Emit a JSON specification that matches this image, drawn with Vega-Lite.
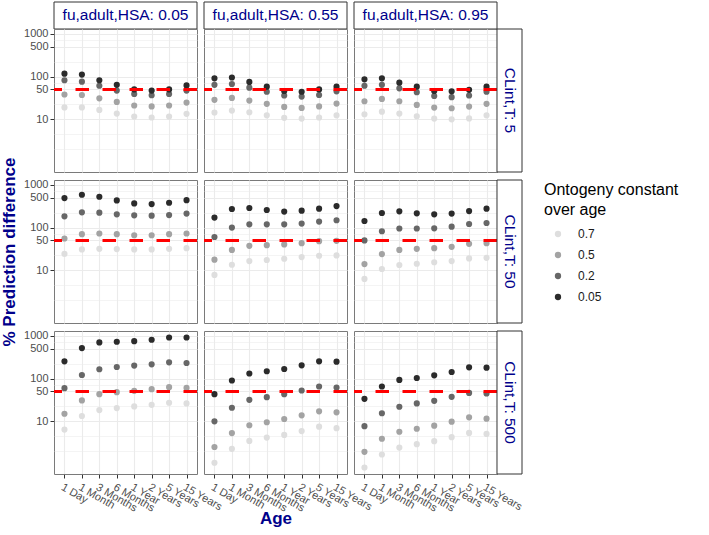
{
"$schema": "https://vega.github.io/schema/vega-lite/v6.json",
"padding": {"left": 0, "top": 1, "right": 5, "bottom": 5},
"background": "white",
"config": {
  "font": "Liberation Sans",
  "view": {"stroke": null},
  "axis": {"gridColor": "#ebebeb", "tickColor": "#333333", "labelColor": "#4d4d4d", "labelFont": "Liberation Sans", "titleFont": "Liberation Sans", "domain": false},
  "legend": {"labelFont": "Liberation Sans", "titleFont": "Liberation Sans"}
},
"datasets": {"pts": [
{"fu":"0.05","cl":"5","k":"0.7","age":"1 Day","y":19},{"fu":"0.05","cl":"5","k":"0.7","age":"1 Month","y":19},{"fu":"0.05","cl":"5","k":"0.7","age":"3 Months","y":16.6},{"fu":"0.05","cl":"5","k":"0.7","age":"6 Months","y":13.6},{"fu":"0.05","cl":"5","k":"0.7","age":"1 Year","y":11.6},{"fu":"0.05","cl":"5","k":"0.7","age":"2 Years","y":11},{"fu":"0.05","cl":"5","k":"0.7","age":"5 Years","y":11.6},{"fu":"0.05","cl":"5","k":"0.7","age":"15 Years","y":13.4},
{"fu":"0.05","cl":"5","k":"0.5","age":"1 Day","y":38},{"fu":"0.05","cl":"5","k":"0.5","age":"1 Month","y":37},{"fu":"0.05","cl":"5","k":"0.5","age":"3 Months","y":31},{"fu":"0.05","cl":"5","k":"0.5","age":"6 Months","y":25.5},{"fu":"0.05","cl":"5","k":"0.5","age":"1 Year","y":21},{"fu":"0.05","cl":"5","k":"0.5","age":"2 Years","y":20},{"fu":"0.05","cl":"5","k":"0.5","age":"5 Years","y":21},{"fu":"0.05","cl":"5","k":"0.5","age":"15 Years","y":24.6},
{"fu":"0.05","cl":"5","k":"0.2","age":"1 Day","y":82},{"fu":"0.05","cl":"5","k":"0.2","age":"1 Month","y":76},{"fu":"0.05","cl":"5","k":"0.2","age":"3 Months","y":61},{"fu":"0.05","cl":"5","k":"0.2","age":"6 Months","y":47},{"fu":"0.05","cl":"5","k":"0.2","age":"1 Year","y":39},{"fu":"0.05","cl":"5","k":"0.2","age":"2 Years","y":36.5},{"fu":"0.05","cl":"5","k":"0.2","age":"5 Years","y":39},{"fu":"0.05","cl":"5","k":"0.2","age":"15 Years","y":47},
{"fu":"0.05","cl":"5","k":"0.05","age":"1 Day","y":117},{"fu":"0.05","cl":"5","k":"0.05","age":"1 Month","y":111},{"fu":"0.05","cl":"5","k":"0.05","age":"3 Months","y":82},{"fu":"0.05","cl":"5","k":"0.05","age":"6 Months","y":64},{"fu":"0.05","cl":"5","k":"0.05","age":"1 Year","y":50},{"fu":"0.05","cl":"5","k":"0.05","age":"2 Years","y":47},{"fu":"0.05","cl":"5","k":"0.05","age":"5 Years","y":50},{"fu":"0.05","cl":"5","k":"0.05","age":"15 Years","y":62},

{"fu":"0.55","cl":"5","k":"0.7","age":"1 Day","y":14.4},{"fu":"0.55","cl":"5","k":"0.7","age":"1 Month","y":16},{"fu":"0.55","cl":"5","k":"0.7","age":"3 Months","y":14.6},{"fu":"0.55","cl":"5","k":"0.7","age":"6 Months","y":12.4},{"fu":"0.55","cl":"5","k":"0.7","age":"1 Year","y":10.8},{"fu":"0.55","cl":"5","k":"0.7","age":"2 Years","y":10.4},{"fu":"0.55","cl":"5","k":"0.7","age":"5 Years","y":11},{"fu":"0.55","cl":"5","k":"0.7","age":"15 Years","y":12.4},
{"fu":"0.55","cl":"5","k":"0.5","age":"1 Day","y":28.5},{"fu":"0.55","cl":"5","k":"0.5","age":"1 Month","y":31.7},{"fu":"0.55","cl":"5","k":"0.5","age":"3 Months","y":27.4},{"fu":"0.55","cl":"5","k":"0.5","age":"6 Months","y":23},{"fu":"0.55","cl":"5","k":"0.5","age":"1 Year","y":19.5},{"fu":"0.55","cl":"5","k":"0.5","age":"2 Years","y":18.5},{"fu":"0.55","cl":"5","k":"0.5","age":"5 Years","y":20},{"fu":"0.55","cl":"5","k":"0.5","age":"15 Years","y":23.3},
{"fu":"0.55","cl":"5","k":"0.2","age":"1 Day","y":64},{"fu":"0.55","cl":"5","k":"0.2","age":"1 Month","y":67},{"fu":"0.55","cl":"5","k":"0.2","age":"3 Months","y":55},{"fu":"0.55","cl":"5","k":"0.2","age":"6 Months","y":44},{"fu":"0.55","cl":"5","k":"0.2","age":"1 Year","y":36},{"fu":"0.55","cl":"5","k":"0.2","age":"2 Years","y":34},{"fu":"0.55","cl":"5","k":"0.2","age":"5 Years","y":37},{"fu":"0.55","cl":"5","k":"0.2","age":"15 Years","y":45},
{"fu":"0.55","cl":"5","k":"0.05","age":"1 Day","y":91},{"fu":"0.55","cl":"5","k":"0.05","age":"1 Month","y":95},{"fu":"0.55","cl":"5","k":"0.05","age":"3 Months","y":75},{"fu":"0.55","cl":"5","k":"0.05","age":"6 Months","y":58},{"fu":"0.55","cl":"5","k":"0.05","age":"1 Year","y":46},{"fu":"0.55","cl":"5","k":"0.05","age":"2 Years","y":44},{"fu":"0.55","cl":"5","k":"0.05","age":"5 Years","y":50},{"fu":"0.55","cl":"5","k":"0.05","age":"15 Years","y":58},

{"fu":"0.95","cl":"5","k":"0.7","age":"1 Day","y":13.1},{"fu":"0.95","cl":"5","k":"0.7","age":"1 Month","y":15.1},{"fu":"0.95","cl":"5","k":"0.7","age":"3 Months","y":13.6},{"fu":"0.95","cl":"5","k":"0.7","age":"6 Months","y":11.8},{"fu":"0.95","cl":"5","k":"0.7","age":"1 Year","y":10.4},{"fu":"0.95","cl":"5","k":"0.7","age":"2 Years","y":10},{"fu":"0.95","cl":"5","k":"0.7","age":"5 Years","y":10.5},{"fu":"0.95","cl":"5","k":"0.7","age":"15 Years","y":12.4},
{"fu":"0.95","cl":"5","k":"0.5","age":"1 Day","y":26.4},{"fu":"0.95","cl":"5","k":"0.5","age":"1 Month","y":30},{"fu":"0.95","cl":"5","k":"0.5","age":"3 Months","y":26.4},{"fu":"0.95","cl":"5","k":"0.5","age":"6 Months","y":21.7},{"fu":"0.95","cl":"5","k":"0.5","age":"1 Year","y":18.8},{"fu":"0.95","cl":"5","k":"0.5","age":"2 Years","y":18.1},{"fu":"0.95","cl":"5","k":"0.5","age":"5 Years","y":19.8},{"fu":"0.95","cl":"5","k":"0.5","age":"15 Years","y":23},
{"fu":"0.95","cl":"5","k":"0.2","age":"1 Day","y":61},{"fu":"0.95","cl":"5","k":"0.2","age":"1 Month","y":64},{"fu":"0.95","cl":"5","k":"0.2","age":"3 Months","y":53},{"fu":"0.95","cl":"5","k":"0.2","age":"6 Months","y":43},{"fu":"0.95","cl":"5","k":"0.2","age":"1 Year","y":35},{"fu":"0.95","cl":"5","k":"0.2","age":"2 Years","y":33},{"fu":"0.95","cl":"5","k":"0.2","age":"5 Years","y":36},{"fu":"0.95","cl":"5","k":"0.2","age":"15 Years","y":44},
{"fu":"0.95","cl":"5","k":"0.05","age":"1 Day","y":86},{"fu":"0.95","cl":"5","k":"0.05","age":"1 Month","y":91},{"fu":"0.95","cl":"5","k":"0.05","age":"3 Months","y":72},{"fu":"0.95","cl":"5","k":"0.05","age":"6 Months","y":58},{"fu":"0.95","cl":"5","k":"0.05","age":"1 Year","y":46},{"fu":"0.95","cl":"5","k":"0.05","age":"2 Years","y":45},{"fu":"0.95","cl":"5","k":"0.05","age":"5 Years","y":49},{"fu":"0.95","cl":"5","k":"0.05","age":"15 Years","y":58},

{"fu":"0.05","cl":"50","k":"0.7","age":"1 Day","y":24.3},{"fu":"0.05","cl":"50","k":"0.7","age":"1 Month","y":30.8},{"fu":"0.05","cl":"50","k":"0.7","age":"3 Months","y":31.8},{"fu":"0.05","cl":"50","k":"0.7","age":"6 Months","y":31.3},{"fu":"0.05","cl":"50","k":"0.7","age":"1 Year","y":30.8},{"fu":"0.05","cl":"50","k":"0.7","age":"2 Years","y":30.8},{"fu":"0.05","cl":"50","k":"0.7","age":"5 Years","y":31.8},{"fu":"0.05","cl":"50","k":"0.7","age":"15 Years","y":33},
{"fu":"0.05","cl":"50","k":"0.5","age":"1 Day","y":55.5},{"fu":"0.05","cl":"50","k":"0.5","age":"1 Month","y":70},{"fu":"0.05","cl":"50","k":"0.5","age":"3 Months","y":72.5},{"fu":"0.05","cl":"50","k":"0.5","age":"6 Months","y":70},{"fu":"0.05","cl":"50","k":"0.5","age":"1 Year","y":66},{"fu":"0.05","cl":"50","k":"0.5","age":"2 Years","y":66},{"fu":"0.05","cl":"50","k":"0.5","age":"5 Years","y":70},{"fu":"0.05","cl":"50","k":"0.5","age":"15 Years","y":72.5},
{"fu":"0.05","cl":"50","k":"0.2","age":"1 Day","y":183},{"fu":"0.05","cl":"50","k":"0.2","age":"1 Month","y":227},{"fu":"0.05","cl":"50","k":"0.2","age":"3 Months","y":223},{"fu":"0.05","cl":"50","k":"0.2","age":"6 Months","y":204},{"fu":"0.05","cl":"50","k":"0.2","age":"1 Year","y":193},{"fu":"0.05","cl":"50","k":"0.2","age":"2 Years","y":190},{"fu":"0.05","cl":"50","k":"0.2","age":"5 Years","y":196},{"fu":"0.05","cl":"50","k":"0.2","age":"15 Years","y":212},
{"fu":"0.05","cl":"50","k":"0.05","age":"1 Day","y":488},{"fu":"0.05","cl":"50","k":"0.05","age":"1 Month","y":585},{"fu":"0.05","cl":"50","k":"0.05","age":"3 Months","y":526},{"fu":"0.05","cl":"50","k":"0.05","age":"6 Months","y":431},{"fu":"0.05","cl":"50","k":"0.05","age":"1 Year","y":367},{"fu":"0.05","cl":"50","k":"0.05","age":"2 Years","y":354},{"fu":"0.05","cl":"50","k":"0.05","age":"5 Years","y":381},{"fu":"0.05","cl":"50","k":"0.05","age":"15 Years","y":438},

{"fu":"0.55","cl":"50","k":"0.7","age":"1 Day","y":7.8},{"fu":"0.55","cl":"50","k":"0.7","age":"1 Month","y":13.5},{"fu":"0.55","cl":"50","k":"0.7","age":"3 Months","y":16.4},{"fu":"0.55","cl":"50","k":"0.7","age":"6 Months","y":17.4},{"fu":"0.55","cl":"50","k":"0.7","age":"1 Year","y":18.6},{"fu":"0.55","cl":"50","k":"0.7","age":"2 Years","y":20.4},{"fu":"0.55","cl":"50","k":"0.7","age":"5 Years","y":21.9},{"fu":"0.55","cl":"50","k":"0.7","age":"15 Years","y":22.3},
{"fu":"0.55","cl":"50","k":"0.5","age":"1 Day","y":17.7},{"fu":"0.55","cl":"50","k":"0.5","age":"1 Month","y":30},{"fu":"0.55","cl":"50","k":"0.5","age":"3 Months","y":37.3},{"fu":"0.55","cl":"50","k":"0.5","age":"6 Months","y":38.7},{"fu":"0.55","cl":"50","k":"0.5","age":"1 Year","y":40.3},{"fu":"0.55","cl":"50","k":"0.5","age":"2 Years","y":43.2},{"fu":"0.55","cl":"50","k":"0.5","age":"5 Years","y":48},{"fu":"0.55","cl":"50","k":"0.5","age":"15 Years","y":48.8},
{"fu":"0.55","cl":"50","k":"0.2","age":"1 Day","y":60},{"fu":"0.55","cl":"50","k":"0.2","age":"1 Month","y":100},{"fu":"0.55","cl":"50","k":"0.2","age":"3 Months","y":119},{"fu":"0.55","cl":"50","k":"0.2","age":"6 Months","y":119},{"fu":"0.55","cl":"50","k":"0.2","age":"1 Year","y":119},{"fu":"0.55","cl":"50","k":"0.2","age":"2 Years","y":124},{"fu":"0.55","cl":"50","k":"0.2","age":"5 Years","y":138},{"fu":"0.55","cl":"50","k":"0.2","age":"15 Years","y":148},
{"fu":"0.55","cl":"50","k":"0.05","age":"1 Day","y":171},{"fu":"0.55","cl":"50","k":"0.05","age":"1 Month","y":271},{"fu":"0.55","cl":"50","k":"0.05","age":"3 Months","y":286},{"fu":"0.55","cl":"50","k":"0.05","age":"6 Months","y":257},{"fu":"0.55","cl":"50","k":"0.05","age":"1 Year","y":236},{"fu":"0.55","cl":"50","k":"0.05","age":"2 Years","y":248},{"fu":"0.55","cl":"50","k":"0.05","age":"5 Years","y":277},{"fu":"0.55","cl":"50","k":"0.05","age":"15 Years","y":318},

{"fu":"0.95","cl":"50","k":"0.7","age":"1 Day","y":6.3},{"fu":"0.95","cl":"50","k":"0.7","age":"1 Month","y":10.7},{"fu":"0.95","cl":"50","k":"0.7","age":"3 Months","y":13.3},{"fu":"0.95","cl":"50","k":"0.7","age":"6 Months","y":14.2},{"fu":"0.95","cl":"50","k":"0.7","age":"1 Year","y":15.4},{"fu":"0.95","cl":"50","k":"0.7","age":"2 Years","y":16.4},{"fu":"0.95","cl":"50","k":"0.7","age":"5 Years","y":19},{"fu":"0.95","cl":"50","k":"0.7","age":"15 Years","y":19.6},
{"fu":"0.95","cl":"50","k":"0.5","age":"1 Day","y":14},{"fu":"0.95","cl":"50","k":"0.5","age":"1 Month","y":23.9},{"fu":"0.95","cl":"50","k":"0.5","age":"3 Months","y":30},{"fu":"0.95","cl":"50","k":"0.5","age":"6 Months","y":31.8},{"fu":"0.95","cl":"50","k":"0.5","age":"1 Year","y":33},{"fu":"0.95","cl":"50","k":"0.5","age":"2 Years","y":35.4},{"fu":"0.95","cl":"50","k":"0.5","age":"5 Years","y":41.6},{"fu":"0.95","cl":"50","k":"0.5","age":"15 Years","y":43.2},
{"fu":"0.95","cl":"50","k":"0.2","age":"1 Day","y":50},{"fu":"0.95","cl":"50","k":"0.2","age":"1 Month","y":82},{"fu":"0.95","cl":"50","k":"0.2","age":"3 Months","y":95},{"fu":"0.95","cl":"50","k":"0.2","age":"6 Months","y":95},{"fu":"0.95","cl":"50","k":"0.2","age":"1 Year","y":96},{"fu":"0.95","cl":"50","k":"0.2","age":"2 Years","y":105},{"fu":"0.95","cl":"50","k":"0.2","age":"5 Years","y":121},{"fu":"0.95","cl":"50","k":"0.2","age":"15 Years","y":128},
{"fu":"0.95","cl":"50","k":"0.05","age":"1 Day","y":142},{"fu":"0.95","cl":"50","k":"0.05","age":"1 Month","y":219},{"fu":"0.95","cl":"50","k":"0.05","age":"3 Months","y":239},{"fu":"0.95","cl":"50","k":"0.05","age":"6 Months","y":215},{"fu":"0.95","cl":"50","k":"0.05","age":"1 Year","y":204},{"fu":"0.95","cl":"50","k":"0.05","age":"2 Years","y":212},{"fu":"0.95","cl":"50","k":"0.05","age":"5 Years","y":243},{"fu":"0.95","cl":"50","k":"0.05","age":"15 Years","y":277},

{"fu":"0.05","cl":"500","k":"0.7","age":"1 Day","y":6.4},{"fu":"0.05","cl":"500","k":"0.7","age":"1 Month","y":13.3},{"fu":"0.05","cl":"500","k":"0.7","age":"3 Months","y":18.3},{"fu":"0.05","cl":"500","k":"0.7","age":"6 Months","y":20.4},{"fu":"0.05","cl":"500","k":"0.7","age":"1 Year","y":22.3},{"fu":"0.05","cl":"500","k":"0.7","age":"2 Years","y":24.3},{"fu":"0.05","cl":"500","k":"0.7","age":"5 Years","y":27.1},{"fu":"0.05","cl":"500","k":"0.7","age":"15 Years","y":26.2},
{"fu":"0.05","cl":"500","k":"0.5","age":"1 Day","y":15},{"fu":"0.05","cl":"500","k":"0.5","age":"1 Month","y":30.8},{"fu":"0.05","cl":"500","k":"0.5","age":"3 Months","y":43.2},{"fu":"0.05","cl":"500","k":"0.5","age":"6 Months","y":48},{"fu":"0.05","cl":"500","k":"0.5","age":"1 Year","y":51.5},{"fu":"0.05","cl":"500","k":"0.5","age":"2 Years","y":56.4},{"fu":"0.05","cl":"500","k":"0.5","age":"5 Years","y":62.8},{"fu":"0.05","cl":"500","k":"0.5","age":"15 Years","y":60.4},
{"fu":"0.05","cl":"500","k":"0.2","age":"1 Day","y":59.5},{"fu":"0.05","cl":"500","k":"0.2","age":"1 Month","y":121},{"fu":"0.05","cl":"500","k":"0.2","age":"3 Months","y":165},{"fu":"0.05","cl":"500","k":"0.2","age":"6 Months","y":186},{"fu":"0.05","cl":"500","k":"0.2","age":"1 Year","y":201},{"fu":"0.05","cl":"500","k":"0.2","age":"2 Years","y":215},{"fu":"0.05","cl":"500","k":"0.2","age":"5 Years","y":239},{"fu":"0.05","cl":"500","k":"0.2","age":"15 Years","y":231},
{"fu":"0.05","cl":"500","k":"0.05","age":"1 Day","y":253},{"fu":"0.05","cl":"500","k":"0.05","age":"1 Month","y":515},{"fu":"0.05","cl":"500","k":"0.05","age":"3 Months","y":699},{"fu":"0.05","cl":"500","k":"0.05","age":"6 Months","y":725},{"fu":"0.05","cl":"500","k":"0.05","age":"1 Year","y":749},{"fu":"0.05","cl":"500","k":"0.05","age":"2 Years","y":807},{"fu":"0.05","cl":"500","k":"0.05","age":"5 Years","y":913},{"fu":"0.05","cl":"500","k":"0.05","age":"15 Years","y":913},

{"fu":"0.55","cl":"500","k":"0.7","age":"1 Day","y":1.07},{"fu":"0.55","cl":"500","k":"0.7","age":"1 Month","y":2.27},{"fu":"0.55","cl":"500","k":"0.7","age":"3 Months","y":3.48},{"fu":"0.55","cl":"500","k":"0.7","age":"6 Months","y":4.16},{"fu":"0.55","cl":"500","k":"0.7","age":"1 Year","y":4.8},{"fu":"0.55","cl":"500","k":"0.7","age":"2 Years","y":5.9},{"fu":"0.55","cl":"500","k":"0.7","age":"5 Years","y":7.5},{"fu":"0.55","cl":"500","k":"0.7","age":"15 Years","y":6.9},
{"fu":"0.55","cl":"500","k":"0.5","age":"1 Day","y":2.5},{"fu":"0.55","cl":"500","k":"0.5","age":"1 Month","y":5.3},{"fu":"0.55","cl":"500","k":"0.5","age":"3 Months","y":8.1},{"fu":"0.55","cl":"500","k":"0.5","age":"6 Months","y":9.5},{"fu":"0.55","cl":"500","k":"0.5","age":"1 Year","y":11.3},{"fu":"0.55","cl":"500","k":"0.5","age":"2 Years","y":13.8},{"fu":"0.55","cl":"500","k":"0.5","age":"5 Years","y":17.1},{"fu":"0.55","cl":"500","k":"0.5","age":"15 Years","y":16.2},
{"fu":"0.55","cl":"500","k":"0.2","age":"1 Day","y":10},{"fu":"0.55","cl":"500","k":"0.2","age":"1 Month","y":20.7},{"fu":"0.55","cl":"500","k":"0.2","age":"3 Months","y":31.8},{"fu":"0.55","cl":"500","k":"0.2","age":"6 Months","y":36.7},{"fu":"0.55","cl":"500","k":"0.2","age":"1 Year","y":43.2},{"fu":"0.55","cl":"500","k":"0.2","age":"2 Years","y":52.6},{"fu":"0.55","cl":"500","k":"0.2","age":"5 Years","y":65.2},{"fu":"0.55","cl":"500","k":"0.2","age":"15 Years","y":61.8},
{"fu":"0.55","cl":"500","k":"0.05","age":"1 Day","y":43.2},{"fu":"0.55","cl":"500","k":"0.05","age":"1 Month","y":90},{"fu":"0.55","cl":"500","k":"0.05","age":"3 Months","y":131},{"fu":"0.55","cl":"500","k":"0.05","age":"6 Months","y":148},{"fu":"0.55","cl":"500","k":"0.05","age":"1 Year","y":167},{"fu":"0.55","cl":"500","k":"0.05","age":"2 Years","y":204},{"fu":"0.55","cl":"500","k":"0.05","age":"5 Years","y":253},{"fu":"0.55","cl":"500","k":"0.05","age":"15 Years","y":248},

{"fu":"0.95","cl":"500","k":"0.7","age":"1 Day","y":0.83},{"fu":"0.95","cl":"500","k":"0.7","age":"1 Month","y":1.67},{"fu":"0.95","cl":"500","k":"0.7","age":"3 Months","y":2.43},{"fu":"0.95","cl":"500","k":"0.7","age":"6 Months","y":2.92},{"fu":"0.95","cl":"500","k":"0.7","age":"1 Year","y":3.43},{"fu":"0.95","cl":"500","k":"0.7","age":"2 Years","y":4.25},{"fu":"0.95","cl":"500","k":"0.7","age":"5 Years","y":5.35},{"fu":"0.95","cl":"500","k":"0.7","age":"15 Years","y":5.07},
{"fu":"0.95","cl":"500","k":"0.5","age":"1 Day","y":1.93},{"fu":"0.95","cl":"500","k":"0.5","age":"1 Month","y":3.9},{"fu":"0.95","cl":"500","k":"0.5","age":"3 Months","y":5.7},{"fu":"0.95","cl":"500","k":"0.5","age":"6 Months","y":6.7},{"fu":"0.95","cl":"500","k":"0.5","age":"1 Year","y":7.9},{"fu":"0.95","cl":"500","k":"0.5","age":"2 Years","y":9.8},{"fu":"0.95","cl":"500","k":"0.5","age":"5 Years","y":12.4},{"fu":"0.95","cl":"500","k":"0.5","age":"15 Years","y":11.5},
{"fu":"0.95","cl":"500","k":"0.2","age":"1 Day","y":7.7},{"fu":"0.95","cl":"500","k":"0.2","age":"1 Month","y":15.4},{"fu":"0.95","cl":"500","k":"0.2","age":"3 Months","y":21.9},{"fu":"0.95","cl":"500","k":"0.2","age":"6 Months","y":26.2},{"fu":"0.95","cl":"500","k":"0.2","age":"1 Year","y":30.1},{"fu":"0.95","cl":"500","k":"0.2","age":"2 Years","y":37.3},{"fu":"0.95","cl":"500","k":"0.2","age":"5 Years","y":46.2},{"fu":"0.95","cl":"500","k":"0.2","age":"15 Years","y":44.8},
{"fu":"0.95","cl":"500","k":"0.05","age":"1 Day","y":33.6},{"fu":"0.95","cl":"500","k":"0.05","age":"1 Month","y":65.2},{"fu":"0.95","cl":"500","k":"0.05","age":"3 Months","y":92.8},{"fu":"0.95","cl":"500","k":"0.05","age":"6 Months","y":103},{"fu":"0.95","cl":"500","k":"0.05","age":"1 Year","y":119},{"fu":"0.95","cl":"500","k":"0.05","age":"2 Years","y":142},{"fu":"0.95","cl":"500","k":"0.05","age":"5 Years","y":183},{"fu":"0.95","cl":"500","k":"0.05","age":"15 Years","y":180}
]},
"columns": 4,
"spacing": {"row": 8, "column": 7},
"align": "each",
"bounds": "flush",
"resolve": {"scale": {"x": "independent", "y": "independent"}, "axis": {"x": "independent", "y": "independent"}},
"concat": [
{"width":143,"height":19,"data":{"values":[{"label":"fu,adult,HSA: 0.05"}]},"layer":[
 {"mark":{"type":"rect","fill":"#ffffff","stroke":"#333333","strokeWidth":1},"encoding":{"x":{"datum":0,"type":"quantitative","scale":{"domain":[0,1],"nice":false},"axis":null},"x2":{"datum":1},"y":{"datum":1,"type":"quantitative","scale":{"domain":[0,1],"nice":false},"axis":null},"y2":{"datum":-0.4211}}},
 {"mark":{"type":"text","fontSize":15.5,"color":"#00008B","align":"center","baseline":"middle"},"encoding":{"x":{"datum":0.5,"type":"quantitative"},"y":{"datum":0.2895,"type":"quantitative"},"text":{"field":"label"}}}]},
{"width":143,"height":19,"data":{"values":[{"label":"fu,adult,HSA: 0.55"}]},"layer":[
 {"mark":{"type":"rect","fill":"#ffffff","stroke":"#333333","strokeWidth":1},"encoding":{"x":{"datum":0,"type":"quantitative","scale":{"domain":[0,1],"nice":false},"axis":null},"x2":{"datum":1},"y":{"datum":1,"type":"quantitative","scale":{"domain":[0,1],"nice":false},"axis":null},"y2":{"datum":-0.4211}}},
 {"mark":{"type":"text","fontSize":15.5,"color":"#00008B","align":"center","baseline":"middle"},"encoding":{"x":{"datum":0.5,"type":"quantitative"},"y":{"datum":0.2895,"type":"quantitative"},"text":{"field":"label"}}}]},
{"width":143,"height":19,"data":{"values":[{"label":"fu,adult,HSA: 0.95"}]},"layer":[
 {"mark":{"type":"rect","fill":"#ffffff","stroke":"#333333","strokeWidth":1},"encoding":{"x":{"datum":0,"type":"quantitative","scale":{"domain":[0,1],"nice":false},"axis":null},"x2":{"datum":1},"y":{"datum":1,"type":"quantitative","scale":{"domain":[0,1],"nice":false},"axis":null},"y2":{"datum":-0.4211}}},
 {"mark":{"type":"text","fontSize":15.5,"color":"#00008B","align":"center","baseline":"middle"},"encoding":{"x":{"datum":0.5,"type":"quantitative"},"y":{"datum":0.2895,"type":"quantitative"},"text":{"field":"label"}}}]},
{"width":18,"height":19,"data":{"values":[{"label":""}]},"mark":{"type":"text"},"encoding":{"text":{"field":"label"}}},

{"width":143,"height":143,"view":{"stroke":"#7a7a7a"},"layer":[
 {"data":{"name":"pts"},"transform":[{"filter":"datum.fu=='0.05' && datum.cl=='5'"}],"mark":{"type":"point","filled":true,"size":38,"opacity":1,"strokeWidth":0},
  "encoding":{
   "x":{"field":"age","type":"ordinal","sort":["1 Day","1 Month","3 Months","6 Months","1 Year","2 Years","5 Years","15 Years"],"scale":{"type":"point","padding":0.6},"axis":{"labels":false,"ticks":false,"grid":true,"gridWidth":1.1,"title":null}},
   "y":{"field":"y","type":"quantitative","scale":{"type":"log","domain":[0.585,1295],"nice":false},"axis":{"values":[2,4.472,10,22.36,50,70.71,100,223.6,500,707.1,1000],"labelExpr":"indexof([10,50,100,500,1000],datum.value)>=0 ? format(datum.value,'d') : ''","labelOverlap":false,"labelFontSize":11,"labelPadding":2,"tickSize":4,"tickOpacity":{"condition":{"test":"indexof([10,50,100,500,1000],datum.value)>=0","value":1},"value":0},"gridWidth":{"condition":{"test":"indexof([10,50,100,500,1000],datum.value)>=0","value":1.1},"value":0.55},"title":null}},
   "color":{"field":"k","type":"nominal","title":["Ontogeny constant","over age"],"scale":{"domain":["0.7","0.5","0.2","0.05"],"range":["#dedede","#a3a3a3","#676767","#2b2b2b"]},"legend":{"orient":"none","legendX":490,"legendY":180,"titleFontSize":16,"titleFontWeight":"normal","titleColor":"#000000","titleLineHeight":20,"titlePadding":10,"titleLimit":300,"labelFontSize":12,"labelColor":"#1a1a1a","labelOffset":14,"symbolSize":40,"symbolStrokeWidth":0,"symbolType":"circle","symbolOffset":8,"rowPadding":9}}}},
 {"data":{"values":[{}]},"mark":{"type":"rule","color":"#ff0000","strokeWidth":3,"strokeDash":[13.5,13.5]},"encoding":{"y":{"datum":50}}}]},
{"width":143,"height":143,"view":{"stroke":"#7a7a7a"},"layer":[
 {"data":{"name":"pts"},"transform":[{"filter":"datum.fu=='0.55' && datum.cl=='5'"}],"mark":{"type":"point","filled":true,"size":38,"opacity":1,"strokeWidth":0},
  "encoding":{
   "x":{"field":"age","type":"ordinal","sort":["1 Day","1 Month","3 Months","6 Months","1 Year","2 Years","5 Years","15 Years"],"scale":{"type":"point","padding":0.6},"axis":{"labels":false,"ticks":false,"grid":true,"gridWidth":1.1,"title":null}},
   "y":{"field":"y","type":"quantitative","scale":{"type":"log","domain":[0.585,1295],"nice":false},"axis":{"values":[2,4.472,10,22.36,50,70.71,100,223.6,500,707.1,1000],"labels":false,"ticks":false,"gridWidth":{"condition":{"test":"indexof([10,50,100,500,1000],datum.value)>=0","value":1.1},"value":0.55},"title":null}},
   "color":{"field":"k","type":"nominal","title":["Ontogeny constant","over age"],"scale":{"domain":["0.7","0.5","0.2","0.05"],"range":["#dedede","#a3a3a3","#676767","#2b2b2b"]}}}},
 {"data":{"values":[{}]},"mark":{"type":"rule","color":"#ff0000","strokeWidth":3,"strokeDash":[13.5,13.5]},"encoding":{"y":{"datum":50}}}]},
{"width":143,"height":143,"view":{"stroke":"#7a7a7a"},"layer":[
 {"data":{"name":"pts"},"transform":[{"filter":"datum.fu=='0.95' && datum.cl=='5'"}],"mark":{"type":"point","filled":true,"size":38,"opacity":1,"strokeWidth":0},
  "encoding":{
   "x":{"field":"age","type":"ordinal","sort":["1 Day","1 Month","3 Months","6 Months","1 Year","2 Years","5 Years","15 Years"],"scale":{"type":"point","padding":0.6},"axis":{"labels":false,"ticks":false,"grid":true,"gridWidth":1.1,"title":null}},
   "y":{"field":"y","type":"quantitative","scale":{"type":"log","domain":[0.585,1295],"nice":false},"axis":{"values":[2,4.472,10,22.36,50,70.71,100,223.6,500,707.1,1000],"labels":false,"ticks":false,"gridWidth":{"condition":{"test":"indexof([10,50,100,500,1000],datum.value)>=0","value":1.1},"value":0.55},"title":null}},
   "color":{"field":"k","type":"nominal","title":["Ontogeny constant","over age"],"scale":{"domain":["0.7","0.5","0.2","0.05"],"range":["#dedede","#a3a3a3","#676767","#2b2b2b"]}}}},
 {"data":{"values":[{}]},"mark":{"type":"rule","color":"#ff0000","strokeWidth":3,"strokeDash":[13.5,13.5]},"encoding":{"y":{"datum":50}}}]},
{"width":18,"height":143,"data":{"values":[{"label":"CLint,T: 5"}]},"layer":[
 {"mark":{"type":"rect","fill":"#ffffff","stroke":"#333333","strokeWidth":1},"encoding":{"x":{"datum":-0.3889,"type":"quantitative","scale":{"domain":[0,1],"nice":false},"axis":null},"x2":{"datum":1},"y":{"datum":0,"type":"quantitative","scale":{"domain":[0,1],"nice":false},"axis":null},"y2":{"datum":1}}},
 {"mark":{"type":"text","fontSize":15.5,"color":"#00008B","align":"center","baseline":"middle","angle":90},"encoding":{"x":{"datum":0.3056,"type":"quantitative"},"y":{"datum":0.5,"type":"quantitative"},"text":{"field":"label"}}}]},

{"width":143,"height":143,"view":{"stroke":"#7a7a7a"},"layer":[
 {"data":{"name":"pts"},"transform":[{"filter":"datum.fu=='0.05' && datum.cl=='50'"}],"mark":{"type":"point","filled":true,"size":38,"opacity":1,"strokeWidth":0},
  "encoding":{
   "x":{"field":"age","type":"ordinal","sort":["1 Day","1 Month","3 Months","6 Months","1 Year","2 Years","5 Years","15 Years"],"scale":{"type":"point","padding":0.6},"axis":{"labels":false,"ticks":false,"grid":true,"gridWidth":1.1,"title":null}},
   "y":{"field":"y","type":"quantitative","scale":{"type":"log","domain":[0.585,1295],"nice":false},"axis":{"values":[2,4.472,10,22.36,50,70.71,100,223.6,500,707.1,1000],"labelExpr":"indexof([10,50,100,500,1000],datum.value)>=0 ? format(datum.value,'d') : ''","labelOverlap":false,"labelFontSize":11,"labelPadding":2,"tickSize":4,"tickOpacity":{"condition":{"test":"indexof([10,50,100,500,1000],datum.value)>=0","value":1},"value":0},"gridWidth":{"condition":{"test":"indexof([10,50,100,500,1000],datum.value)>=0","value":1.1},"value":0.55},"title":"% Prediction difference","titleFontSize":17,"titleFontWeight":"bold","titleColor":"#00008B","titlePadding":5}},
   "color":{"field":"k","type":"nominal","title":["Ontogeny constant","over age"],"scale":{"domain":["0.7","0.5","0.2","0.05"],"range":["#dedede","#a3a3a3","#676767","#2b2b2b"]}}}},
 {"data":{"values":[{}]},"mark":{"type":"rule","color":"#ff0000","strokeWidth":3,"strokeDash":[13.5,13.5]},"encoding":{"y":{"datum":50}}}]},
{"width":143,"height":143,"view":{"stroke":"#7a7a7a"},"layer":[
 {"data":{"name":"pts"},"transform":[{"filter":"datum.fu=='0.55' && datum.cl=='50'"}],"mark":{"type":"point","filled":true,"size":38,"opacity":1,"strokeWidth":0},
  "encoding":{
   "x":{"field":"age","type":"ordinal","sort":["1 Day","1 Month","3 Months","6 Months","1 Year","2 Years","5 Years","15 Years"],"scale":{"type":"point","padding":0.6},"axis":{"labels":false,"ticks":false,"grid":true,"gridWidth":1.1,"title":null}},
   "y":{"field":"y","type":"quantitative","scale":{"type":"log","domain":[0.585,1295],"nice":false},"axis":{"values":[2,4.472,10,22.36,50,70.71,100,223.6,500,707.1,1000],"labels":false,"ticks":false,"gridWidth":{"condition":{"test":"indexof([10,50,100,500,1000],datum.value)>=0","value":1.1},"value":0.55},"title":null}},
   "color":{"field":"k","type":"nominal","title":["Ontogeny constant","over age"],"scale":{"domain":["0.7","0.5","0.2","0.05"],"range":["#dedede","#a3a3a3","#676767","#2b2b2b"]}}}},
 {"data":{"values":[{}]},"mark":{"type":"rule","color":"#ff0000","strokeWidth":3,"strokeDash":[13.5,13.5]},"encoding":{"y":{"datum":50}}}]},
{"width":143,"height":143,"view":{"stroke":"#7a7a7a"},"layer":[
 {"data":{"name":"pts"},"transform":[{"filter":"datum.fu=='0.95' && datum.cl=='50'"}],"mark":{"type":"point","filled":true,"size":38,"opacity":1,"strokeWidth":0},
  "encoding":{
   "x":{"field":"age","type":"ordinal","sort":["1 Day","1 Month","3 Months","6 Months","1 Year","2 Years","5 Years","15 Years"],"scale":{"type":"point","padding":0.6},"axis":{"labels":false,"ticks":false,"grid":true,"gridWidth":1.1,"title":null}},
   "y":{"field":"y","type":"quantitative","scale":{"type":"log","domain":[0.585,1295],"nice":false},"axis":{"values":[2,4.472,10,22.36,50,70.71,100,223.6,500,707.1,1000],"labels":false,"ticks":false,"gridWidth":{"condition":{"test":"indexof([10,50,100,500,1000],datum.value)>=0","value":1.1},"value":0.55},"title":null}},
   "color":{"field":"k","type":"nominal","title":["Ontogeny constant","over age"],"scale":{"domain":["0.7","0.5","0.2","0.05"],"range":["#dedede","#a3a3a3","#676767","#2b2b2b"]}}}},
 {"data":{"values":[{}]},"mark":{"type":"rule","color":"#ff0000","strokeWidth":3,"strokeDash":[13.5,13.5]},"encoding":{"y":{"datum":50}}}]},
{"width":18,"height":143,"data":{"values":[{"label":"CLint,T: 50"}]},"layer":[
 {"mark":{"type":"rect","fill":"#ffffff","stroke":"#333333","strokeWidth":1},"encoding":{"x":{"datum":-0.3889,"type":"quantitative","scale":{"domain":[0,1],"nice":false},"axis":null},"x2":{"datum":1},"y":{"datum":0,"type":"quantitative","scale":{"domain":[0,1],"nice":false},"axis":null},"y2":{"datum":1}}},
 {"mark":{"type":"text","fontSize":15.5,"color":"#00008B","align":"center","baseline":"middle","angle":90},"encoding":{"x":{"datum":0.3056,"type":"quantitative"},"y":{"datum":0.5,"type":"quantitative"},"text":{"field":"label"}}}]},

{"width":143,"height":143,"view":{"stroke":"#7a7a7a"},"layer":[
 {"data":{"name":"pts"},"transform":[{"filter":"datum.fu=='0.05' && datum.cl=='500'"}],"mark":{"type":"point","filled":true,"size":38,"opacity":1,"strokeWidth":0},
  "encoding":{
   "x":{"field":"age","type":"ordinal","sort":["1 Day","1 Month","3 Months","6 Months","1 Year","2 Years","5 Years","15 Years"],"scale":{"type":"point","padding":0.6},"axis":{"grid":true,"gridWidth":1.1,"labelAngle":30,"labelAlign":"left","labelBaseline":"top","labelFontSize":11,"labelPadding":3,"labelOverlap":false,"tickSize":4,"title":null}},
   "y":{"field":"y","type":"quantitative","scale":{"type":"log","domain":[0.585,1295],"nice":false},"axis":{"values":[2,4.472,10,22.36,50,70.71,100,223.6,500,707.1,1000],"labelExpr":"indexof([10,50,100,500,1000],datum.value)>=0 ? format(datum.value,'d') : ''","labelOverlap":false,"labelFontSize":11,"labelPadding":2,"tickSize":4,"tickOpacity":{"condition":{"test":"indexof([10,50,100,500,1000],datum.value)>=0","value":1},"value":0},"gridWidth":{"condition":{"test":"indexof([10,50,100,500,1000],datum.value)>=0","value":1.1},"value":0.55},"title":null}},
   "color":{"field":"k","type":"nominal","title":["Ontogeny constant","over age"],"scale":{"domain":["0.7","0.5","0.2","0.05"],"range":["#dedede","#a3a3a3","#676767","#2b2b2b"]}}}},
 {"data":{"values":[{}]},"mark":{"type":"rule","color":"#ff0000","strokeWidth":3,"strokeDash":[13.5,13.5]},"encoding":{"y":{"datum":50}}}]},
{"width":143,"height":143,"view":{"stroke":"#7a7a7a"},"layer":[
 {"data":{"name":"pts"},"transform":[{"filter":"datum.fu=='0.55' && datum.cl=='500'"}],"mark":{"type":"point","filled":true,"size":38,"opacity":1,"strokeWidth":0},
  "encoding":{
   "x":{"field":"age","type":"ordinal","sort":["1 Day","1 Month","3 Months","6 Months","1 Year","2 Years","5 Years","15 Years"],"scale":{"type":"point","padding":0.6},"axis":{"grid":true,"gridWidth":1.1,"labelAngle":30,"labelAlign":"left","labelBaseline":"top","labelFontSize":11,"labelPadding":3,"labelOverlap":false,"tickSize":4,"title":"Age","titleFontSize":17,"titleFontWeight":"bold","titleColor":"#00008B","titlePadding":-3}},
   "y":{"field":"y","type":"quantitative","scale":{"type":"log","domain":[0.585,1295],"nice":false},"axis":{"values":[2,4.472,10,22.36,50,70.71,100,223.6,500,707.1,1000],"labels":false,"ticks":false,"gridWidth":{"condition":{"test":"indexof([10,50,100,500,1000],datum.value)>=0","value":1.1},"value":0.55},"title":null}},
   "color":{"field":"k","type":"nominal","title":["Ontogeny constant","over age"],"scale":{"domain":["0.7","0.5","0.2","0.05"],"range":["#dedede","#a3a3a3","#676767","#2b2b2b"]}}}},
 {"data":{"values":[{}]},"mark":{"type":"rule","color":"#ff0000","strokeWidth":3,"strokeDash":[13.5,13.5]},"encoding":{"y":{"datum":50}}}]},
{"width":143,"height":143,"view":{"stroke":"#7a7a7a"},"layer":[
 {"data":{"name":"pts"},"transform":[{"filter":"datum.fu=='0.95' && datum.cl=='500'"}],"mark":{"type":"point","filled":true,"size":38,"opacity":1,"strokeWidth":0},
  "encoding":{
   "x":{"field":"age","type":"ordinal","sort":["1 Day","1 Month","3 Months","6 Months","1 Year","2 Years","5 Years","15 Years"],"scale":{"type":"point","padding":0.6},"axis":{"grid":true,"gridWidth":1.1,"labelAngle":30,"labelAlign":"left","labelBaseline":"top","labelFontSize":11,"labelPadding":3,"labelOverlap":false,"tickSize":4,"title":null}},
   "y":{"field":"y","type":"quantitative","scale":{"type":"log","domain":[0.585,1295],"nice":false},"axis":{"values":[2,4.472,10,22.36,50,70.71,100,223.6,500,707.1,1000],"labels":false,"ticks":false,"gridWidth":{"condition":{"test":"indexof([10,50,100,500,1000],datum.value)>=0","value":1.1},"value":0.55},"title":null}},
   "color":{"field":"k","type":"nominal","title":["Ontogeny constant","over age"],"scale":{"domain":["0.7","0.5","0.2","0.05"],"range":["#dedede","#a3a3a3","#676767","#2b2b2b"]}}}},
 {"data":{"values":[{}]},"mark":{"type":"rule","color":"#ff0000","strokeWidth":3,"strokeDash":[13.5,13.5]},"encoding":{"y":{"datum":50}}}]},
{"width":18,"height":143,"data":{"values":[{"label":"CLint,T: 500"}]},"layer":[
 {"mark":{"type":"rect","fill":"#ffffff","stroke":"#333333","strokeWidth":1},"encoding":{"x":{"datum":-0.3889,"type":"quantitative","scale":{"domain":[0,1],"nice":false},"axis":null},"x2":{"datum":1},"y":{"datum":0,"type":"quantitative","scale":{"domain":[0,1],"nice":false},"axis":null},"y2":{"datum":1}}},
 {"mark":{"type":"text","fontSize":15.5,"color":"#00008B","align":"center","baseline":"middle","angle":90},"encoding":{"x":{"datum":0.3056,"type":"quantitative"},"y":{"datum":0.5,"type":"quantitative"},"text":{"field":"label"}}}]}
]
}
